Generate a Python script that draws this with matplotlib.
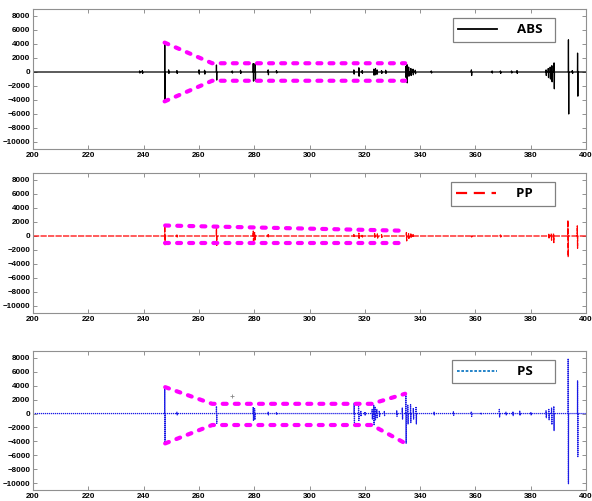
import numpy as np
import matplotlib
matplotlib.use("Agg")
import matplotlib.pyplot as plt
from matplotlib.lines import Line2D

plt.rcParams['font.family'] = ['Liberation Sans', 'DejaVu Sans']

# spike events: time, positive peak, negative peak
abs_t = [238.5, 239.5, 247.6, 249, 252, 260, 262, 266.3, 272, 275, 279.6, 280.3, 285, 288,
         316, 317.8, 319, 323.2, 323.8, 324.4, 326, 327.5, 334.8, 335.2, 335.8, 336.6, 337.4,
         338.2, 344, 358.5, 366, 369, 373, 375, 385.5, 386.3, 387.0, 387.6, 388.4, 393.6,
         395, 396.9]
abs_up = [150, 200, 4100, 300, 200, 300, 250, 1000, 150, 250, 1200, 1200, 300, 200,
          300, 600, 200, 400, 500, 300, 200, 250, 800, 1050, 700, 500, 400,
          250, 150, 300, 150, 150, 150, 200, 300, 500, 700, 900, 1300, 4600,
          200, 2700]
abs_dn = [-150, -200, -4300, -200, -200, -300, -300, -1150, -150, -200, -1300, -1300, -400, -150,
          -300, -600, -200, -450, -400, -300, -200, -200, -800, -1550, -600, -500, -400,
          -250, -150, -500, -150, -200, -150, -200, -500, -800, -1000, -1400, -2400, -6000,
          -200, -3450]

pp_t = [247.6, 252, 266.3, 279.6, 280.1, 285, 316, 317.8, 319, 323.5, 324.5, 326, 335.0,
        335.8, 336.6, 337.4, 358.5, 369, 386.5, 387.4, 388.2, 393.4, 396.8]
pp_up = [1500, 150, 1100, 700, 500, 200, 200, 400, 200, 350, 300, 200, 500,
         350, 300, 200, 100, 150, 250, 350, 400, 2250, 1450]
pp_dn = [-1250, -150, -1350, -800, -700, -200, -200, -450, -150, -300, -300, -200, -700,
         -350, -300, -200, -150, -150, -400, -600, -950, -2950, -1750]

ps_t = [247.6, 252, 266.3, 279.6, 280.1, 285, 288, 316.1, 317.7, 318.5, 320, 322.6, 323.2,
        323.7, 324.3, 325.2, 327, 331.5, 333.5, 334.8, 335.5, 336.5, 337.5, 338.5, 345, 352,
        358.5, 362, 368.6, 371, 373.5, 376, 380, 385.5, 386.5, 387.5, 388.3, 393.5, 396.9]
ps_up = [3800, 200, 1050, 950, 700, 200, 150, 1500, 1000, 400, 250, 600, 1200,
         900, 600, 400, 300, 400, 800, 2850, 1200, 1300, 800, 1000, 200, 250,
         300, 150, 600, 200, 300, 350, 200, 400, 600, 800, 1050, 7900, 4700]
ps_dn = [-4300, -200, -1420, -1050, -900, -200, -100, -1300, -1000, -400, -300, -800, -1600,
         -1000, -600, -400, -300, -400, -800, -4270, -1500, -1300, -800, -1500, -200, -250,
         -400, -150, -500, -200, -300, -300, -200, -600, -900, -1600, -2450, -10100, -6200]

# magenta outlines (upper and lower)
abs_box_x = [247.6, 264.8, 334.6]
abs_box_hi = [4200, 1250, 1250]
abs_box_lo = [-4200, -1250, -1250]
pp_box_x = [247.8, 334.6]
pp_box_hi = [1500, 750]
pp_box_lo = [-1000, -1000]
ps_box_x = [247.8, 264.8, 322.5, 334.6]
ps_box_hi = [3800, 1400, 1400, 2850]
ps_box_lo = [-4300, -1650, -1650, -4270]


def trace(t, up, dn):
    xs, ys = [200], [0]
    for ti, u, d in zip(t, up, dn):
        xs += [ti, ti + 0.05, ti + 0.15, ti + 0.2]
        ys += [0, u, d, 0]
    xs.append(400)
    ys.append(0)
    return xs, ys


fig = plt.figure(figsize=(5.92, 5.01), dpi=100)
rects = [[33/592, 1-149/501, 553/592, 140/501],
         [33/592, 1-313/501, 553/592, 140/501],
         [33/592, 1-490/501, 553/592, 139/501]]

panels = [
    ("ABS  ", abs_t, abs_up, abs_dn, "black", "-", abs_box_x, abs_box_hi, abs_box_lo,
     Line2D([], [], color="black", lw=1.3, ls="-")),
    ("PP     ", pp_t, pp_up, pp_dn, "#ff0000", (0, (5, 1)), pp_box_x, pp_box_hi, pp_box_lo,
     Line2D([], [], color="#ff0000", lw=1.6, ls=(0, (5, 3)))),
    ("PS     ", ps_t, ps_up, ps_dn, "#1a1ae6", (0, (1, 0.6)), ps_box_x, ps_box_hi, ps_box_lo,
     Line2D([], [], color="#0070c0", lw=1.2, ls=(0, (1.6, 1)))),
]

for rect, (name, t, up, dn, col, ls, bx, bhi, blo, handle) in zip(rects, panels):
    ax = fig.add_axes(rect)
    xs, ys = trace(t, up, dn)
    ax.plot(xs, ys, color=col, lw=0.9, ls=ls)
    for yy in (bhi, blo):
        ax.plot(bx, yy, color="#ff00ff", lw=3.0, ls=(0, (0.95, 1.95)),
                dash_capstyle="round", solid_capstyle="round")
    if name.startswith("PS"):
        ax.plot([272], [2500], marker="+", ms=3, color="#888888", mew=0.6)
    ax.set_xlim(200, 400)
    ax.set_ylim(-11000, 9000)
    ax.set_xticks(np.arange(200, 401, 20))
    ax.set_yticks(np.arange(-10000, 8001, 2000))
    ax.tick_params(direction="in", top=True, right=True, length=3, width=0.6,
                   colors="#808080", labelcolor="black", labelsize=5.8, pad=2)
    for lab in ax.get_xticklabels() + ax.get_yticklabels():
        lab.set_fontweight("bold")
    for sp in ax.spines.values():
        sp.set_color("#909090")
        sp.set_linewidth(0.8)
    leg = ax.legend([handle], [name], loc="upper right",
                    bbox_to_anchor=(0.944, 0.936), fancybox=False, framealpha=1,
                    edgecolor="#808080", handlelength=3.0, handletextpad=1.5,
                    borderpad=0.4, borderaxespad=0,
                    prop={"family": "Open Sans", "weight": "bold", "size": 9.5})
    leg.get_frame().set_linewidth(0.9)

fig.savefig("out.png", dpi=100)
